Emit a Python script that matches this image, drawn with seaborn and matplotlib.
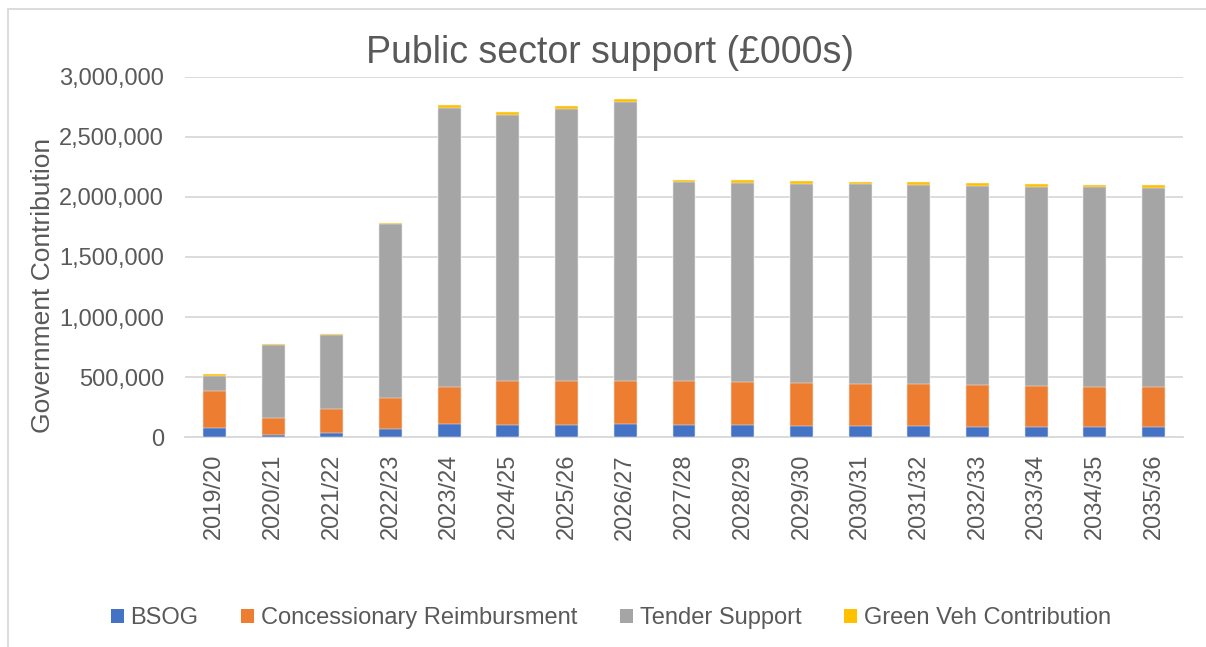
import numpy as np
import pandas as pd
import matplotlib
matplotlib.use("Agg")
import matplotlib.pyplot as plt
from matplotlib.patches import Patch, Rectangle
import seaborn as sns

# Financial years
years = ["2019/20", "2020/21", "2021/22", "2022/23", "2023/24", "2024/25",
         "2025/26", "2026/27", "2027/28", "2028/29", "2029/30", "2030/31",
         "2031/32", "2032/33", "2033/34", "2034/35", "2035/36"]

# Support streams (£000s)
bsog = [80000, 22000, 39000, 72000, 108000, 105000, 105000, 108000, 105000,
        103000, 97000, 97000, 97000, 88000, 88000, 88000, 88000]
concessionary = [309000, 136000, 200000, 259000, 309000, 362000, 367000, 364000,
                 362000, 360000, 358000, 350000, 347000, 351000, 342000, 334000, 331000]
tender = [125000, 614000, 611000, 1441000, 2325000, 2216000, 2258000, 2316000,
          1655000, 1656000, 1656000, 1658000, 1656000, 1655000, 1656000, 1658000, 1653000]
green = [11000, 8000, 11000, 10000, 19000, 20000, 23000, 23000, 22000, 23000,
         22000, 23000, 25000, 25000, 25000, 23000, 25000]

series_names = ["BSOG", "Concessionary Reimbursment", "Tender Support", "Green Veh Contribution"]
series_colors = ["#4472C4", "#ED7D31", "#A5A5A5", "#FFC000"]

df = pd.DataFrame({"year": years, "BSOG": bsog,
                   "Concessionary Reimbursment": concessionary,
                   "Tender Support": tender,
                   "Green Veh Contribution": green})

sns.set_theme(style="white")
plt.rcParams["font.family"] = ["Liberation Sans", "DejaVu Sans"]
text_col = "#595959"
grid_col = "#D9D9D9"

fig = plt.figure(figsize=(12.06, 6.47), dpi=100)
ax = fig.add_axes([185 / 1206, 1 - 437.3 / 647, (1183 - 185) / 1206, (437.3 - 76.7) / 647])

# Stacked bars: draw cumulative totals from the top layer down
cum = df[series_names].cumsum(axis=1)
for name, col in reversed(list(zip(series_names, series_colors))):
    sns.barplot(x=df["year"], y=cum[name], color=col, width=0.39,
                edgecolor="#F2F2F2", linewidth=0.35, saturation=1, ax=ax, zorder=3)

ax.set_ylim(0, 3000000)
ax.set_xlim(-0.5, len(years) - 0.5)
ax.set_yticks(np.arange(0, 3000001, 500000))
ax.yaxis.set_major_formatter(matplotlib.ticker.FuncFormatter(lambda v, p: f"{int(v):,}"))
ax.grid(axis="y", color=grid_col, linewidth=1.3, zorder=0)
ax.grid(axis="x", visible=False)
for s in ["left", "right", "top"]:
    ax.spines[s].set_visible(False)
ax.spines["bottom"].set_color(grid_col)
ax.spines["bottom"].set_linewidth(1.3)
ax.tick_params(axis="y", length=0, pad=15, labelsize=17, labelcolor=text_col)
ax.tick_params(axis="x", length=0, pad=12, labelsize=17, labelcolor=text_col, rotation=90)
ax.set_xlabel("")
ax.set_ylabel("Government Contribution", fontsize=19, color=text_col, labelpad=10)
ax.yaxis.set_label_coords((55 - 185) / (1183 - 185), 0.42)

fig.text(610 / 1206, 1 - 53 / 647, "Public sector support (£000s)", ha="center", va="center",
         fontsize=27, color=text_col)

handles = [Patch(facecolor=c, edgecolor="none", label=n) for n, c in zip(series_names, series_colors)]
fig.legend(handles=handles, loc="center", bbox_to_anchor=(611 / 1206, 1 - 618 / 647), ncol=4,
           frameon=False, fontsize=17, labelcolor=text_col, handlelength=0.55, handleheight=0.55,
           handletextpad=0.3, columnspacing=1.8)

# Chart area border
fig.patches.append(Rectangle((8 / 1206, -0.1), 1.2, 1 - 9 / 647 + 0.1, transform=fig.transFigure,
                             fill=False, edgecolor=grid_col, linewidth=1.3))

fig.savefig("out.png", dpi=100, facecolor="white")
